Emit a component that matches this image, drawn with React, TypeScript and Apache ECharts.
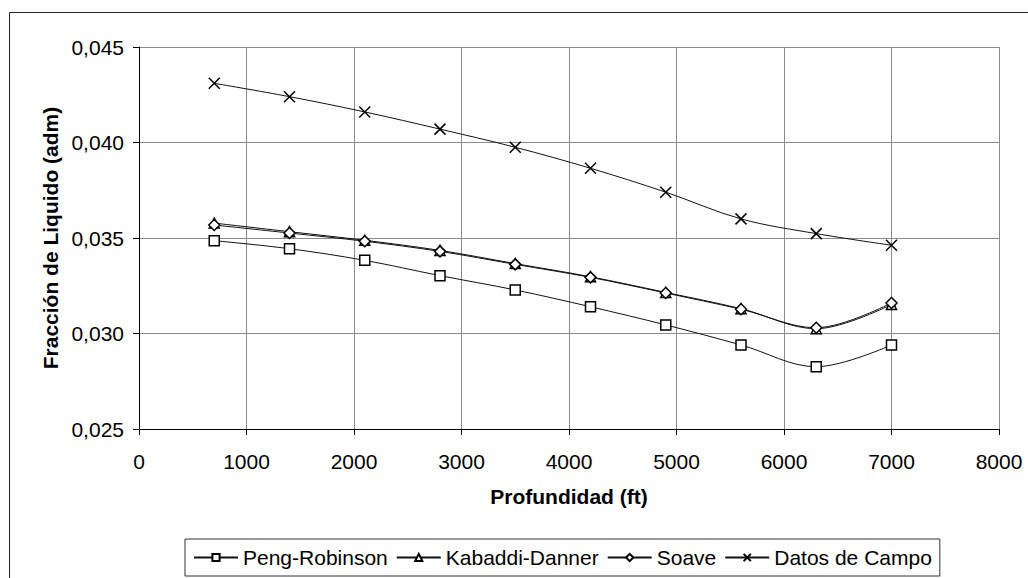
import React, { useEffect, useRef } from "react";
import * as echarts from "echarts";

const depths = [700, 1400, 2100, 2800, 3500, 4200, 4900, 5600, 6300, 7000];
const pengRobinson = [0.03486, 0.03444, 0.03383, 0.03303, 0.03228, 0.0314, 0.03045, 0.0294, 0.02826, 0.0294];
const kabaddiDanner = [0.03578, 0.03533, 0.03488, 0.03435, 0.03366, 0.03297, 0.03215, 0.0313, 0.03025, 0.03152];
const soave = [0.03568, 0.03526, 0.03483, 0.0343, 0.03362, 0.03294, 0.03212, 0.03127, 0.0303, 0.0316];
const datosCampo = [0.0431, 0.0424, 0.0416, 0.0407, 0.03975, 0.03865, 0.0374, 0.036, 0.03523, 0.03462];

const seriesNames = ["Peng-Robinson", "Kabaddi-Danner", "Soave", "Datos de Campo"];
const xTitle = "Profundidad (ft)";
const yTitle = "Fracción de Liquido (adm)";

const FONT = "'Liberation Sans', Arial, sans-serif";

export default function App() {
  const ref = useRef<HTMLDivElement>(null);
  useEffect(() => {
    document.body.style.margin = "0";
    const chart = echarts.init(ref.current!, null, { renderer: "svg" });
    const pair = (ys: number[]) => depths.map((d, i) => [d, ys[i]]);
    const lineStyle = { color: "#111", width: 1 };
    const hollow = { color: "#fff", borderColor: "#000", borderWidth: 1.5 };
    chart.setOption({
      animation: false,
      backgroundColor: "#fff",
      textStyle: { fontFamily: FONT },
      graphic: [
        {
          type: "rect",
          shape: { x: 9.5, y: 12.5, width: 1040, height: 620 },
          style: { fill: "none", stroke: "#222", lineWidth: 1 },
          silent: true,
        },
      ],
      grid: { left: 139, right: 29, top: 47, bottom: 149 },
      xAxis: {
        type: "value",
        min: 0,
        max: 8000,
        interval: 1000,
        name: xTitle,
        nameLocation: "middle",
        nameGap: 57,
        nameTextStyle: { fontSize: 21, fontWeight: "bold", color: "#000", fontFamily: FONT },
        axisLine: { show: true, lineStyle: { color: "#000", width: 1 } },
        axisTick: { show: true, length: 6, lineStyle: { color: "#000" } },
        axisLabel: {
          fontSize: 21,
          color: "#000",
          margin: 22,
          fontFamily: FONT,
          formatter: (v: number) => String(Math.round(v)),
        },
        splitLine: { show: true, lineStyle: { color: "#8a8a8a", width: 1 } },
      },
      yAxis: {
        type: "value",
        min: 0.025,
        max: 0.045,
        interval: 0.005,
        name: yTitle,
        nameLocation: "middle",
        nameGap: 76,
        nameTextStyle: { fontSize: 21, fontWeight: "bold", color: "#000", fontFamily: FONT },
        axisLine: { show: true, lineStyle: { color: "#000", width: 1 } },
        axisTick: { show: true, length: 6, lineStyle: { color: "#000" } },
        axisLabel: {
          fontSize: 21,
          color: "#000",
          margin: 15,
          fontFamily: FONT,
          formatter: (v: number) => v.toFixed(3).replace(".", ","),
        },
        splitLine: { show: true, lineStyle: { color: "#8a8a8a", width: 1 } },
      },
      legend: {
        left: 185,
        top: 539,
        padding: [8, 8, 8, 8],
        borderColor: "#333",
        borderWidth: 1,
        itemGap: 8,
        itemWidth: 44,
        itemHeight: 9,
        textStyle: { fontSize: 21, color: "#000", fontFamily: FONT },
        data: seriesNames,
      },
      series: [
        {
          name: seriesNames[0],
          type: "line",
          data: pair(pengRobinson),
          smooth: 0.35,
          symbol: "rect",
          symbolSize: 10,
          lineStyle,
          itemStyle: hollow,
        },
        {
          name: seriesNames[1],
          type: "line",
          data: pair(kabaddiDanner),
          smooth: 0.35,
          symbol: "triangle",
          symbolSize: 10,
          lineStyle,
          itemStyle: hollow,
        },
        {
          name: seriesNames[2],
          type: "line",
          data: pair(soave),
          smooth: 0.35,
          symbol: "diamond",
          symbolSize: 11,
          lineStyle,
          itemStyle: hollow,
        },
        {
          name: seriesNames[3],
          type: "line",
          data: pair(datosCampo),
          smooth: 0.35,
          symbol: "path://M0,0L10,10M10,0L0,10",
          symbolSize: 11,
          lineStyle,
          itemStyle: { color: "#000", borderColor: "#000", borderWidth: 1.5 },
        },
      ],
    });
    return () => chart.dispose();
  }, []);
  return <div ref={ref} style={{ width: 1028, height: 578 }} />;
}
